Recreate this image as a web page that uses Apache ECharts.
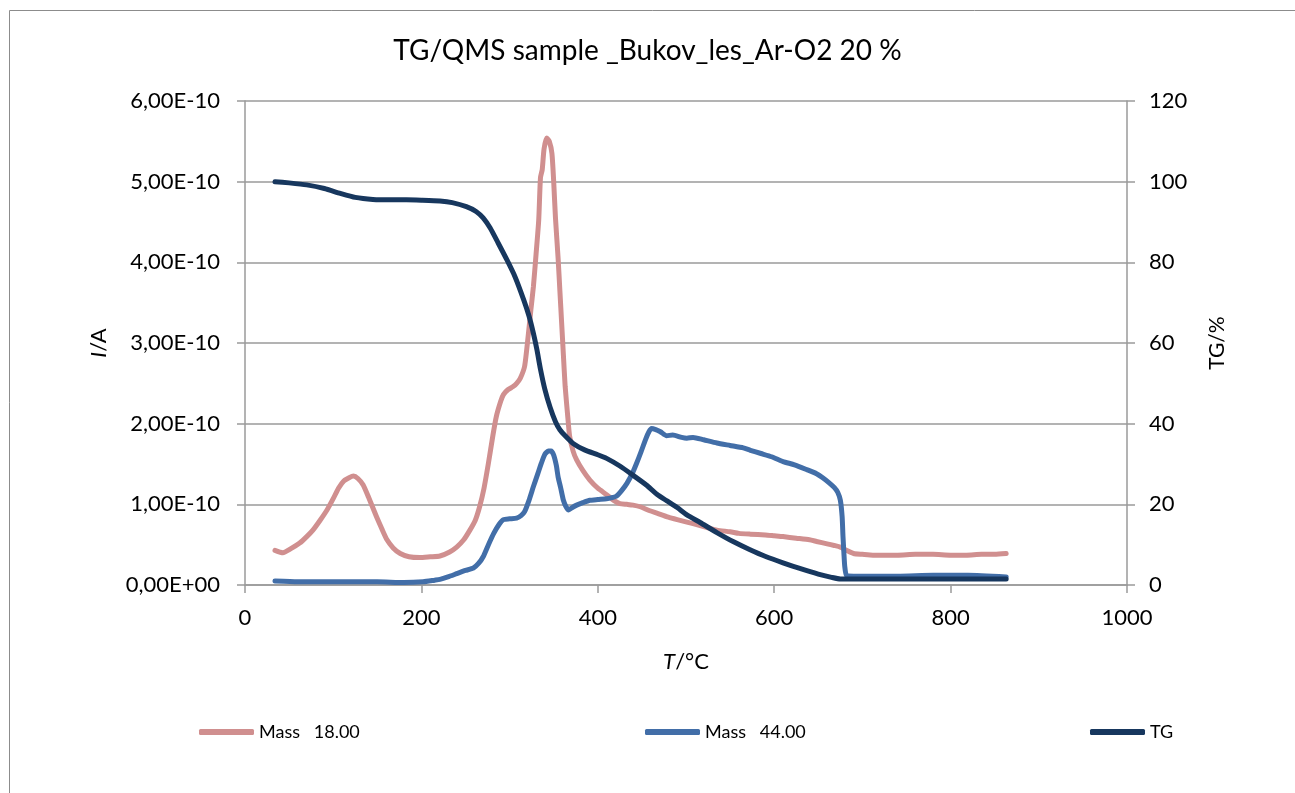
<!DOCTYPE html>
<html>
<head>
<meta charset="utf-8">
<script src="https://cdn.jsdelivr.net/npm/echarts@6/dist/echarts.min.js"></script>
<style>
  html, body { margin: 0; padding: 0; background: #fff; }
  #chart { width: 1295px; height: 793px; }
</style>
</head>
<body>
<div id="chart"></div>
<script>
// ion currents in units of 1e-10 A, [T/°C, I]
const mass18 = [
  [34, 0.43], [43, 0.40], [52, 0.45], [62, 0.52], [70, 0.60], [77, 0.68], [85, 0.80],
  [93, 0.93], [100, 1.07], [106, 1.20], [112, 1.29], [118, 1.33], [123, 1.35], [128, 1.32],
  [134, 1.24], [140, 1.09], [149, 0.85], [155, 0.70], [161, 0.56], [168, 0.46], [176, 0.39],
  [186, 0.35], [198, 0.34], [210, 0.35], [221, 0.36], [232, 0.41], [240, 0.47], [248, 0.56],
  [255, 0.68], [261, 0.80], [266, 0.97], [271, 1.20], [276, 1.51], [281, 1.85], [285, 2.09],
  [290, 2.28], [293, 2.36], [298, 2.42], [304, 2.46], [308, 2.50], [312, 2.56], [317, 2.71],
  [321, 3.08], [324, 3.40], [327, 3.70], [330, 4.10], [333, 4.52], [335, 5.05], [337, 5.15],
  [339, 5.40], [342, 5.54], [345, 5.50], [348, 5.35], [350, 5.00], [352, 4.55], [355, 4.05],
  [357, 3.65], [359, 3.25], [361, 2.85], [363, 2.46], [366, 2.08], [368, 1.85], [372, 1.66],
  [376, 1.55], [383, 1.42], [391, 1.30], [400, 1.20], [410, 1.12], [418, 1.05], [425, 1.01],
  [433, 1.00], [440, 0.99], [448, 0.97], [459, 0.92], [467, 0.89], [480, 0.84], [490, 0.81],
  [501, 0.78], [515, 0.74], [525, 0.71], [535, 0.68], [550, 0.66], [560, 0.64], [573, 0.63],
  [590, 0.62], [600, 0.61], [610, 0.60], [625, 0.58], [640, 0.56], [648, 0.54], [660, 0.51],
  [668, 0.49], [675, 0.47], [682, 0.43], [690, 0.39], [700, 0.38], [712, 0.37], [724, 0.37],
  [740, 0.37], [760, 0.38], [780, 0.38], [800, 0.37], [818, 0.37], [835, 0.38], [850, 0.38],
  [863, 0.39]
];

const mass44 = [
  [34, 0.05], [60, 0.04], [100, 0.04], [150, 0.04], [180, 0.03], [202, 0.04], [215, 0.06],
  [221, 0.07], [230, 0.10], [240, 0.14], [250, 0.18], [259, 0.21], [265, 0.27], [270, 0.35],
  [276, 0.50], [282, 0.64], [288, 0.75], [293, 0.81], [300, 0.82], [308, 0.83], [313, 0.86],
  [317, 0.91], [322, 1.05], [327, 1.22], [332, 1.38], [336, 1.51], [340, 1.62], [344, 1.66],
  [347, 1.66], [350, 1.61], [353, 1.48], [355, 1.34], [358, 1.20], [361, 1.05], [364, 0.97],
  [367, 0.93], [371, 0.96], [376, 0.99], [383, 1.02], [391, 1.05], [400, 1.06], [410, 1.07],
  [415, 1.08], [421, 1.10], [427, 1.17], [433, 1.26], [439, 1.38], [444, 1.51], [449, 1.65],
  [454, 1.80], [458, 1.90], [461, 1.94], [465, 1.93], [471, 1.90], [478, 1.85], [485, 1.86],
  [495, 1.83], [501, 1.82], [508, 1.83], [520, 1.80], [535, 1.76], [550, 1.73], [565, 1.70],
  [573, 1.67], [585, 1.63], [597, 1.59], [610, 1.53], [623, 1.49], [637, 1.43], [648, 1.38],
  [655, 1.33], [662, 1.27], [668, 1.21], [672, 1.15], [675, 1.05], [677, 0.85], [678, 0.60],
  [679, 0.40], [680, 0.23], [682, 0.12], [690, 0.11], [705, 0.11], [740, 0.11], [780, 0.12],
  [820, 0.12], [863, 0.10]
];

// mass, %
const tg = [
  [34, 100], [50, 99.7], [70, 99.2], [90, 98.3], [108, 97.1], [125, 96.1], [145, 95.6],
  [165, 95.5], [183, 95.5], [200, 95.4], [221, 95.2], [235, 94.8], [251, 93.8], [262, 92.6],
  [270, 91.0], [278, 88.5], [287, 84.8], [297, 80.6], [306, 76.5], [316, 70.7], [322, 66.7],
  [327, 62.4], [331, 58.3], [335, 53.5], [340, 48.5], [346, 44.0], [352, 40.5], [357, 38.5],
  [363, 37.0], [372, 35.1], [385, 33.5], [400, 32.3], [410, 31.4], [425, 29.5], [440, 27.2],
  [455, 24.8], [467, 22.5], [478, 20.9], [490, 19.2], [501, 17.4], [516, 15.5], [535, 13.0],
  [554, 10.7], [572, 8.8], [591, 7.0], [610, 5.5], [629, 4.1], [650, 2.7], [665, 1.9],
  [675, 1.5], [690, 1.5], [720, 1.5], [760, 1.5], [800, 1.5], [840, 1.5], [863, 1.5]
];

const seriesNames = ['Mass   18.00', 'Mass   44.00', 'TG'];
const colors = ['#D08F8F', '#426EA8', '#17375E'];

const font = 'Lato, "Open Sans", sans-serif';
const gray = '#9a9a9a';

const chart = echarts.init(document.getElementById('chart'));

function legendFor(i, left) {
  return {
    data: [seriesNames[i]],
    left: left,
    top: 723,
    padding: 0,
    icon: 'roundRect',
    itemWidth: 55,
    itemHeight: 6,
    itemGap: 4,
    textStyle: { fontFamily: font, fontSize: 18, color: '#000' }
  };
}

function lineSeries(i, data, yIdx) {
  return {
    name: seriesNames[i],
    type: 'line',
    yAxisIndex: yIdx,
    data: data,
    showSymbol: false,
    symbol: 'none',
    smooth: 0.2,
    lineStyle: { color: colors[i], width: 5, cap: 'round', join: 'round' },
    itemStyle: { color: colors[i] },
    animation: false
  };
}

const option = {
  backgroundColor: '#fff',
  animation: false,
  title: {
    text: 'TG/QMS sample _Bukov_les_Ar-O2 20 %',
    left: 'center',
    top: 32,
    textStyle: { fontFamily: font, fontSize: 28, fontWeight: 'normal', color: '#000' }
  },
  graphic: [{
    type: 'rect',
    shape: { x: 9.5, y: 10.5, width: 1400, height: 900 },
    style: { fill: 'none', stroke: '#8c8c8c', lineWidth: 1 },
    silent: true
  }],
  legend: [legendFor(0, 199), legendFor(1, 645), legendFor(2, 1090)],
  grid: { left: 245, right: 168, top: 101, bottom: 208 },
  xAxis: {
    type: 'value',
    min: 0,
    max: 1000,
    interval: 200,
    name: '{i|T}/°C',
    nameLocation: 'middle',
    nameGap: 66,
    nameTextStyle: {
      fontFamily: font, fontSize: 22, color: '#000',
      rich: { i: { fontFamily: font, fontSize: 22, fontStyle: 'italic', color: '#000' } }
    },
    axisLine: { show: true, onZero: false, lineStyle: { color: gray, width: 1.5 } },
    axisTick: { show: true, length: 8, lineStyle: { color: gray, width: 1.5 } },
    axisLabel: {
      fontFamily: font, fontSize: 22, color: '#000', margin: 22,
      formatter: v => String(v)
    },
    splitLine: { show: false }
  },
  yAxis: [{
    type: 'value',
    min: 0,
    max: 6,
    interval: 1,
    position: 'left',
    name: '{i|I}/A',
    nameLocation: 'middle',
    nameGap: 135,
    nameRotate: 90,
    nameTextStyle: {
      fontFamily: font, fontSize: 22, color: '#000',
      rich: { i: { fontFamily: font, fontSize: 22, fontStyle: 'italic', color: '#000' } }
    },
    axisLine: { show: true, lineStyle: { color: gray, width: 1.5 } },
    axisTick: { show: true, length: 8, lineStyle: { color: gray, width: 1.5 } },
    axisLabel: {
      fontFamily: font, fontSize: 22, color: '#000', margin: 25,
      formatter: v => v === 0 ? '0,00E+00' : v.toFixed(2).replace('.', ',') + 'E-10'
    },
    splitLine: { show: true, lineStyle: { color: gray, width: 1.5 } }
  }, {
    type: 'value',
    min: 0,
    max: 120,
    interval: 20,
    position: 'right',
    name: 'TG/%',
    nameLocation: 'middle',
    nameGap: 80,
    nameRotate: 90,
    nameTextStyle: { fontFamily: font, fontSize: 21, color: '#000' },
    axisLine: { show: true, lineStyle: { color: gray, width: 1.5 } },
    axisTick: { show: true, length: 8, lineStyle: { color: gray, width: 1.5 } },
    axisLabel: { fontFamily: font, fontSize: 22, color: '#000', margin: 22 },
    splitLine: { show: false }
  }],
  series: [
    lineSeries(0, mass18, 0),
    lineSeries(1, mass44, 0),
    lineSeries(2, tg, 1)
  ]
};

chart.setOption(option);
</script>
</body>
</html>
